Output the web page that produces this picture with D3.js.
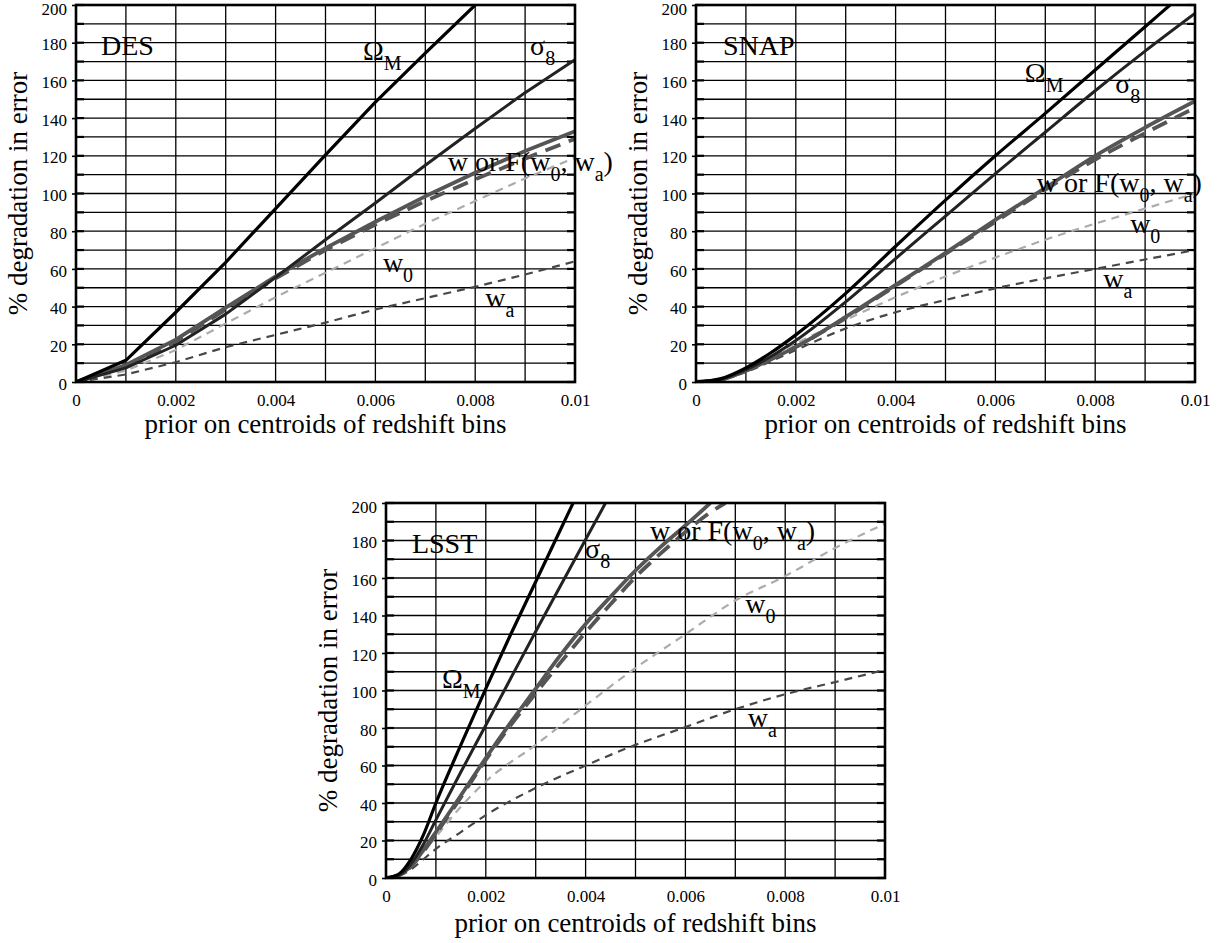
<!DOCTYPE html>
<html><head><meta charset="utf-8">
<script src="https://cdn.jsdelivr.net/npm/d3@7/dist/d3.min.js"></script>
<style>
body{margin:0;background:#fff}
svg{display:block}
text{font-family:"Liberation Serif","Times New Roman",serif;fill:#000}
</style>
</head><body>
<svg id="chart" width="1228" height="943"></svg>
<script>
// ---------- axis ticks / titles ----------
const xTickValues = [0, 0.002, 0.004, 0.006, 0.008, 0.01];
const xTickLabels = ["0", "0.002", "0.004", "0.006", "0.008", "0.01"];
const yTickValues = [0, 20, 40, 60, 80, 100, 120, 140, 160, 180, 200];
const yTickLabels = ["0", "20", "40", "60", "80", "100", "120", "140", "160", "180", "200"];
const xTitle = "prior on centroids of redshift bins";
const yTitle = "% degradation in error";
const panelNames = ["DES", "SNAP", "LSST"];

// ---------- DES ----------
const desX        = [0, 0.001, 0.002, 0.003, 0.004, 0.005, 0.006, 0.007, 0.008, 0.009, 0.01];
const desOmegaMX  = [0, 0.001, 0.002, 0.003, 0.004, 0.005, 0.006, 0.007, 0.008];
const desOmegaM   = [0, 11.5, 37, 63.5, 92, 120.5, 148.5, 174.5, 200];
const desSigma8   = [0, 7.5, 19.5, 36, 55.5, 75.5, 95, 115, 134.5, 153.5, 171];
const desW        = [0, 9, 22.5, 39.5, 56, 71, 85, 98.5, 111, 122.5, 133];
const desF        = [0, 8.5, 21.5, 38.5, 55, 70, 83.5, 96, 107.5, 118.5, 129];
const desW0       = [0, 6, 17, 31, 45, 58, 71, 84, 96, 108, 119];
const desWa       = [0, 4, 10.5, 18.5, 25, 31.5, 38.5, 44.5, 50.5, 57, 64];

// ---------- SNAP ----------
const snapX       = [0, 0.0005, 0.001, 0.0015, 0.002, 0.003, 0.004, 0.005, 0.006, 0.007, 0.008, 0.009, 0.01];
const snapOmegaMX = [0, 0.0005, 0.001, 0.0015, 0.002, 0.003, 0.004, 0.005, 0.006, 0.007, 0.008, 0.009, 0.0095];
const snapOmegaM  = [0, 1.8, 7.5, 15.5, 25, 47, 72, 96.5, 120, 142.5, 165.5, 188.5, 200];
const snapSigma8  = [0, 1.5, 6.5, 13.5, 22, 42.5, 65.5, 88, 110.5, 132.5, 154.5, 175.5, 195.5];
const snapW       = [0, 1.3, 6, 12, 18.6, 34.5, 51.5, 68.5, 86, 103, 120, 135, 149];
const snapF       = [0, 1.3, 6, 12, 18.6, 34, 51, 68, 85, 102, 118, 132, 145.5];
const snapW0      = [0, 1.5, 6.5, 13.5, 20.5, 33, 45, 56, 66, 75.5, 84, 92, 100];
const snapWa      = [0, 1.3, 5.3, 11, 17, 28.4, 37, 43.5, 49.7, 55, 60, 65, 70];

// ---------- LSST ----------
const lsstOmegaMX = [0, 0.00025, 0.0005, 0.00075, 0.001, 0.0015, 0.002, 0.0025, 0.003, 0.0035, 0.00375];
const lsstOmegaM  = [0, 2, 10, 23, 40, 71, 101, 130, 158, 186, 200];
const lsstSigma8X = [0, 0.00025, 0.0005, 0.00075, 0.001, 0.0015, 0.002, 0.0025, 0.003, 0.0035, 0.004, 0.0044];
const lsstSigma8  = [0, 1.5, 7.5, 18, 31, 56.5, 81.5, 106.5, 131.5, 156, 180.5, 200];
const lsstWX      = [0, 0.00025, 0.0005, 0.00075, 0.001, 0.0015, 0.002, 0.0025, 0.003, 0.0035, 0.004, 0.0045, 0.005, 0.0055, 0.006, 0.0065];
const lsstW       = [0, 1.5, 6.5, 15, 24.5, 44, 64, 83, 101, 119, 135.5, 150, 164, 176.5, 188, 200];
const lsstFX      = [0, 0.00025, 0.0005, 0.00075, 0.001, 0.0015, 0.002, 0.0025, 0.003, 0.0035, 0.004, 0.0045, 0.005, 0.0055, 0.006, 0.0065, 0.0068];
const lsstF       = [0, 1.5, 6, 14, 23.5, 43, 63, 81.5, 98.5, 115, 131, 146, 160.5, 173, 184.5, 195, 200];
const lsstX       = [0, 0.00025, 0.0005, 0.00075, 0.001, 0.0015, 0.002, 0.003, 0.004, 0.005, 0.006, 0.007, 0.008, 0.009, 0.01];
const lsstW0      = [0, 1.5, 6, 14, 22, 38, 51.5, 71, 92, 112, 130, 148, 161, 176, 189];
const lsstWa      = [0, 1, 4.5, 10, 15.5, 24.5, 33.5, 48, 60, 71, 80.5, 90, 98, 104.5, 111];

// ---------- styles ----------
const seriesStyle = {
  omegaM: {color: "#000000", width: 3.2, dash: null},
  sigma8: {color: "#222222", width: 3.0, dash: null},
  w:      {color: "#555555", width: 3.8, dash: null},
  F:      {color: "#555555", width: 3.8, dash: "16,9"},
  w0:     {color: "#ababab", width: 2.2, dash: "8,6"},
  wa:     {color: "#474747", width: 2.2, dash: "8,6"}
};
const drawOrder = ["w0", "wa", "F", "w", "sigma8", "omegaM"];

const zip = (xs, ys) => xs.map((x, i) => [x, ys[i]]);

const panels = [
  { name: panelNames[0], box: {left: 76, top: 5, width: 499, height: 377}, curve: d3.curveLinear,
    xTitleGap: 51, series: {
      omegaM: zip(desOmegaMX, desOmegaM), sigma8: zip(desX, desSigma8), w: zip(desX, desW),
      F: zip(desX, desF), w0: zip(desX, desW0), wa: zip(desX, desWa)},
    labels: [
      {at: [0.0005, 173.5], parts: [["DES"]]},
      {at: [0.00575, 170.8], parts: [["Ω"], ["M", 1]]},
      {at: [0.0091, 173.5], parts: [["σ"], ["8", 1]]},
      {at: [0.00745, 112], parts: [["w or F(w"], ["0", 1], [", w"], ["a", 1], [")"]]},
      {at: [0.00615, 58.4], parts: [["w"], ["0", 1]]},
      {at: [0.0082, 39.8], parts: [["w"], ["a", 1]]}
    ]},
  { name: panelNames[1], box: {left: 696, top: 5, width: 499, height: 377}, curve: d3.curveMonotoneX,
    xTitleGap: 51, series: {
      omegaM: zip(snapOmegaMX, snapOmegaM), sigma8: zip(snapX, snapSigma8), w: zip(snapX, snapW),
      F: zip(snapX, snapF), w0: zip(snapX, snapW0), wa: zip(snapX, snapWa)},
    labels: [
      {at: [0.00054, 173.5], parts: [["SNAP"]]},
      {at: [0.00659, 159], parts: [["Ω"], ["M", 1]]},
      {at: [0.0084, 153.3], parts: [["σ"], ["8", 1]]},
      {at: [0.00683, 100.8], parts: [["w or F(w"], ["0", 1], [", w"], ["a", 1], [")"]]},
      {at: [0.0087, 79], parts: [["w"], ["0", 1]]},
      {at: [0.00816, 49.9], parts: [["w"], ["a", 1]]}
    ]},
  { name: panelNames[2], box: {left: 386, top: 503, width: 499, height: 375}, curve: d3.curveMonotoneX,
    xTitleGap: 54, series: {
      omegaM: zip(lsstOmegaMX, lsstOmegaM), sigma8: zip(lsstSigma8X, lsstSigma8), w: zip(lsstWX, lsstW),
      F: zip(lsstFX, lsstF), w0: zip(lsstX, lsstW0), wa: zip(lsstX, lsstWa)},
    labels: [
      {at: [0.00052, 173.3], parts: [["LSST"]]},
      {at: [0.00112, 101.3], parts: [["Ω"], ["M", 1]]},
      {at: [0.00399, 170.7], parts: [["σ"], ["8", 1]]},
      {at: [0.00529, 180.3], parts: [["w or F(w"], ["0", 1], [", w"], ["a", 1], [")"]]},
      {at: [0.0072, 141.3], parts: [["w"], ["0", 1]]},
      {at: [0.00725, 80.5], parts: [["w"], ["a", 1]]}
    ]}
];

const svg = d3.select("#chart");

panels.forEach((p, pi) => {
  const b = p.box;
  const x = d3.scaleLinear().domain([0, 0.01]).range([0, b.width]);
  const y = d3.scaleLinear().domain([0, 200]).range([b.height, 0]);
  const g = svg.append("g").attr("transform", `translate(${b.left},${b.top})`);

  const clipId = "clip" + pi;
  g.append("clipPath").attr("id", clipId).append("rect")
    .attr("width", b.width).attr("height", b.height);

  // grid
  const grid = g.append("g");
  grid.selectAll("line.v").data(x.ticks(10)).enter().append("line")
    .attr("x1", d => x(d)).attr("x2", d => x(d)).attr("y1", 0).attr("y2", b.height)
    .attr("stroke", "#000").attr("stroke-width", 1.3);
  grid.selectAll("line.h").data(y.ticks(20)).enter().append("line")
    .attr("y1", d => y(d)).attr("y2", d => y(d)).attr("x1", 0).attr("x2", b.width)
    .attr("stroke", "#000").attr("stroke-width", 1.3);
  grid.selectAll("line.tl").data(y.ticks(20)).enter().append("line")
    .attr("y1", d => y(d)).attr("y2", d => y(d)).attr("x1", 0).attr("x2", 8)
    .attr("stroke", "#000").attr("stroke-width", 2.2);
  grid.selectAll("line.tr").data(y.ticks(20)).enter().append("line")
    .attr("y1", d => y(d)).attr("y2", d => y(d)).attr("x1", b.width - 8).attr("x2", b.width)
    .attr("stroke", "#000").attr("stroke-width", 2.2);

  // series
  const line = d3.line().x(d => x(d[0])).y(d => y(d[1])).curve(p.curve);
  const sg = g.append("g").attr("clip-path", `url(#${clipId})`);
  drawOrder.forEach(k => {
    const st = seriesStyle[k];
    sg.append("path").datum(p.series[k]).attr("d", line)
      .attr("fill", "none").attr("stroke", st.color).attr("stroke-width", st.width)
      .attr("stroke-dasharray", st.dash).attr("stroke-linejoin", "round");
  });

  // frame
  g.append("rect").attr("width", b.width).attr("height", b.height)
    .attr("fill", "none").attr("stroke", "#000").attr("stroke-width", 2.6);

  // axes
  const yAxis = d3.axisLeft(y).tickValues(yTickValues).tickSize(4).tickPadding(5)
    .tickFormat((d, i) => yTickLabels[i]);
  const ya = g.append("g").call(yAxis);
  ya.attr("font-family", "Liberation Serif");
  ya.select(".domain").remove();
  ya.selectAll("line").attr("stroke", "#000").attr("stroke-width", 1.6);
  ya.selectAll("text").attr("dy", (d, i) => i === yTickValues.length - 1 ? "0.55em" : "0.42em")
    .style("font-size", "17px").style("font-family", "'Liberation Serif', serif");

  const xAxis = d3.axisBottom(x).tickValues(xTickValues).tickSize(0).tickPadding(12)
    .tickFormat((d, i) => xTickLabels[i]);
  const xa = g.append("g").attr("transform", `translate(0,${b.height})`).call(xAxis);
  xa.attr("font-family", "Liberation Serif");
  xa.select(".domain").remove();
  xa.selectAll("text").style("font-size", "17px").style("font-family", "'Liberation Serif', serif");

  // titles
  g.append("text").attr("x", b.width / 2).attr("y", b.height + p.xTitleGap)
    .attr("text-anchor", "middle").style("font-size", "27px").text(xTitle);
  g.append("text").attr("transform", `translate(-49,${b.height / 2}) rotate(-90)`)
    .attr("text-anchor", "middle").style("font-size", "27px").text(yTitle);

  // labels
  p.labels.forEach(l => {
    const t = g.append("text").attr("x", x(l.at[0])).attr("y", y(l.at[1]))
      .style("font-size", "28px");
    let prevSub = false;
    l.parts.forEach(([s, sub]) => {
      const ts = t.append("tspan").text(s);
      if (sub && !prevSub) ts.attr("dy", 10).style("font-size", "20px");
      else if (!sub && prevSub) ts.attr("dy", -10);
      else if (sub) ts.style("font-size", "20px");
      prevSub = !!sub;
    });
  });
});
</script>
</body></html>
